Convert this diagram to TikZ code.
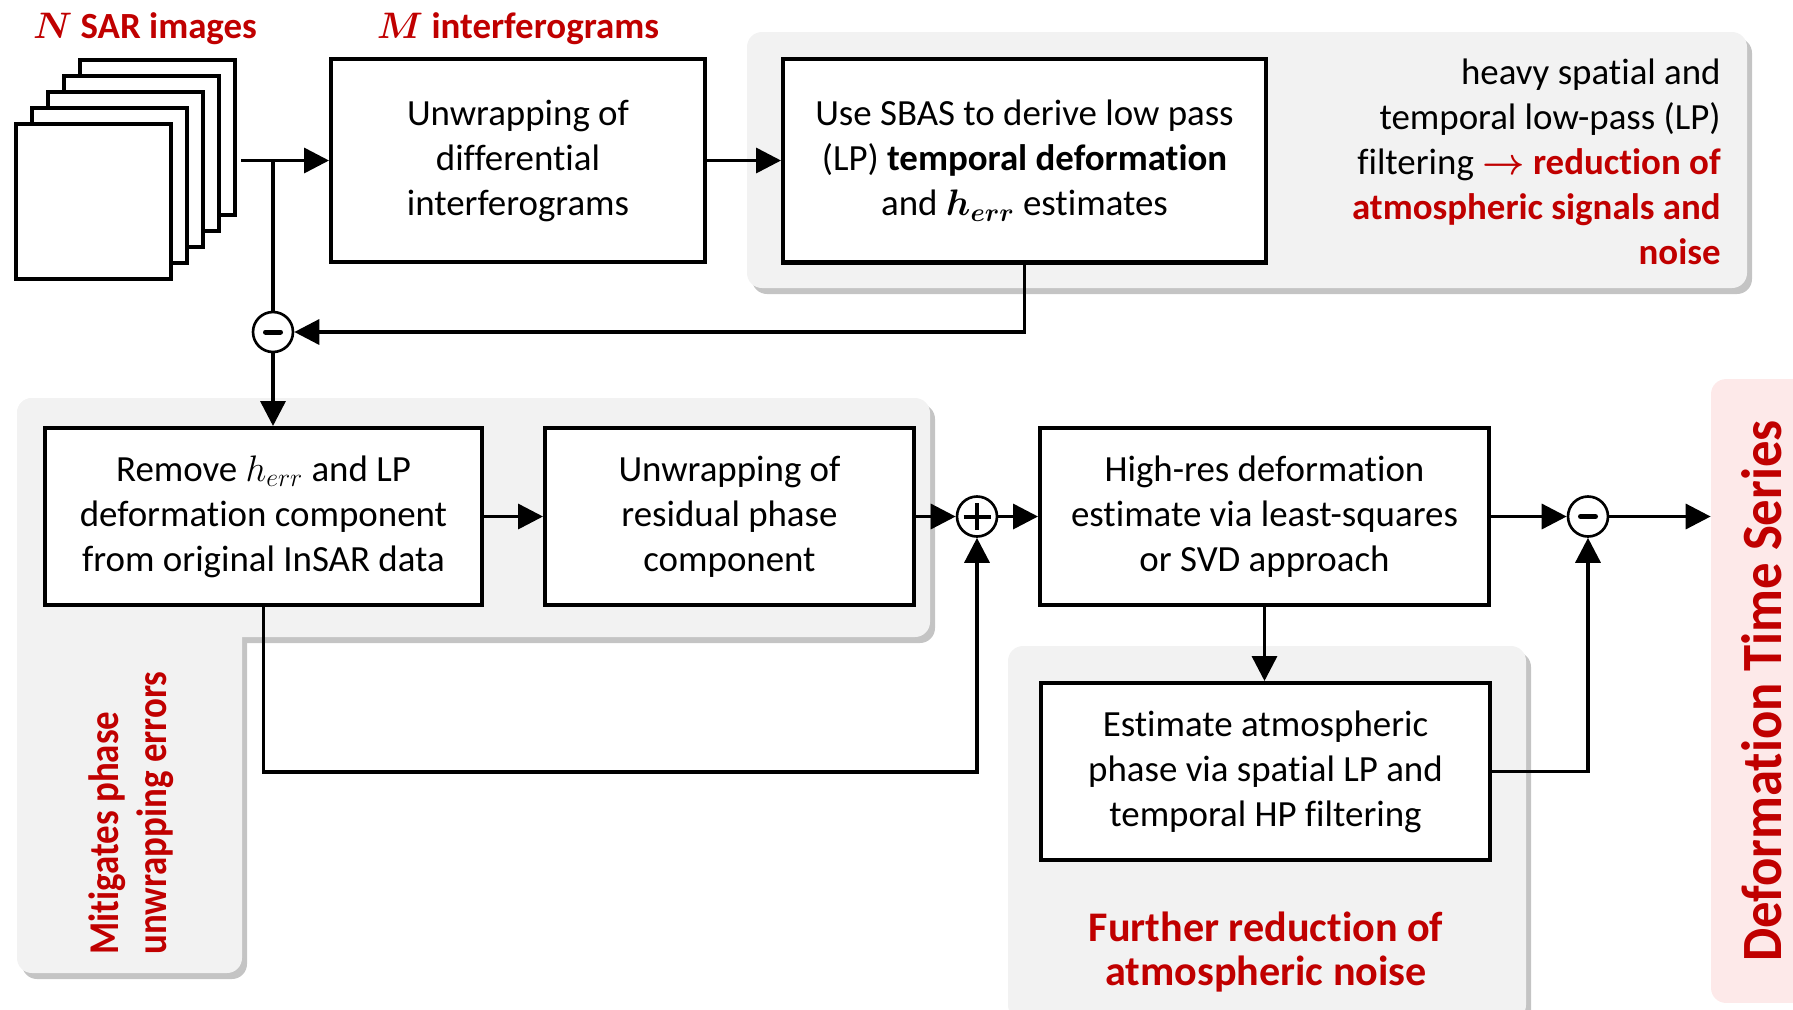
\RequirePackage{fix-cm}
\documentclass[tikz,border=0pt]{standalone}
\usepackage{fontspec}
\setmainfont{Carlito}[Ligatures=NoCommon]
\usetikzlibrary{arrows.meta}
\definecolor{darkred}{HTML}{C00000}
\definecolor{panelgray}{HTML}{F2F2F2}
\definecolor{panelpink}{HTML}{FDE9E9}
\definecolor{shadowgray}{HTML}{C4C4C4}
\begin{document}
\begin{tikzpicture}[x=0.02cm,y=-0.02cm,
    every node/.style={font=\fontsize{21}{25.6}\selectfont},
    procbox/.style={draw,rectangle,fill=white,line width=2.3pt,align=center,inner sep=0pt},
    sheet/.style={draw,rectangle,fill=white,line width=2.1pt,minimum width=3.1cm,minimum height=3.1cm},
    opcircle/.style={draw,circle,fill=white,line width=1.5pt,minimum size=0.8cm,inner sep=0pt},
    minussign/.style={path picture={\draw[line width=0.1cm,line cap=round] ([xshift=-0.15cm]path picture bounding box.center) -- ([xshift=0.15cm]path picture bounding box.center);}},
    plussign/.style={path picture={\draw[line width=0.08cm] ([xshift=-0.27cm]path picture bounding box.center) -- ([xshift=0.27cm]path picture bounding box.center) ([yshift=-0.27cm]path picture bounding box.center) -- ([yshift=0.27cm]path picture bounding box.center);}},
    arr/.style={-{Triangle[length=0.5cm,width=0.5cm]},line width=2pt},
    wire/.style={line width=2pt},
    panel/.style={fill=panelgray,rounded corners=0.3cm},
    panelshadow/.style={fill=shadowgray,rounded corners=0.3cm},
    note/.style={text=darkred,font=\fontsize{21}{25.6}\selectfont\bfseries}]
        \useasboundingbox (0,0) rectangle (1793,1009);
        \fill[panelshadow] (752,38) rectangle (1752,294);
        \fill[panel] (747,32) rectangle (1747,288);
        \fill[panelshadow] (22,404) rectangle (935,643);
        \fill[panelshadow] (22,404) rectangle (247,979);
        \fill[panel] (17,398) rectangle (930,637);
        \fill[panel] (17,398) rectangle (242,973);
        \fill[panelshadow] (1013,652) rectangle (1531,1025);
        \fill[panel] (1008,646) rectangle (1526,1020);
        \foreach \k in {4,3,2,1,0}
            \node[sheet] (sar\k) at (93.5+16*\k,201.5-16*\k) {};
        \node[note] (nlab) at (145,29) {{\boldmath$N$} SAR images};
        \node[note] (mlab) at (518,29) {{\boldmath$M$} interferograms};
        \node[procbox,minimum width=7.48cm,minimum height=4.06cm] (unw) at (518,160.5) {Unwrapping of\\differential\\interferograms};
        \node[procbox,minimum width=9.66cm,minimum height=4.08cm] (sbas) at (1024.5,160.5) {Use SBAS to derive low pass\\(LP) \textbf{temporal deformation}\\and {\boldmath$h_{err}$} estimates};
        \node[anchor=east,align=right,inner sep=0pt] (lpnote) at (1721,162) {heavy spatial and\\temporal low-pass (LP)\\filtering \textcolor{darkred}{\textbf{{\boldmath$\rightarrow$} reduction of}}\\\textcolor{darkred}{\textbf{atmospheric signals and}}\\\textcolor{darkred}{\textbf{noise}}};
        \node[opcircle,minussign] (sub1) at (273,332) {};
        \node[procbox,minimum width=8.74cm,minimum height=3.54cm] (rem) at (263.5,516.5) {Remove $h_{err}$ and LP\\deformation component\\from original InSAR data};
        \node[procbox,minimum width=7.38cm,minimum height=3.54cm] (res) at (729.5,516.5) {Unwrapping of\\residual phase\\component};
        \node[opcircle,plussign] (add) at (977,516.5) {};
        \node[procbox,minimum width=8.98cm,minimum height=3.54cm] (hres) at (1264.5,516.5) {High-res deformation\\estimate via least-squares\\or SVD approach};
        \node[opcircle,minussign] (sub2) at (1588,516.5) {};
        \node[procbox,minimum width=8.98cm,minimum height=3.54cm] (atm) at (1265.5,771.5) {Estimate atmospheric\\phase via spatial LP and\\temporal HP filtering};
        \node[note,align=center,font=\fontsize{24}{25.6}\selectfont\bfseries] (atmnote) at (1266,952) {Further reduction of\\atmospheric noise};
        \node[note,rotate=90,anchor=west,align=left,inner sep=0pt,font=\fontsize{21}{27.5}\selectfont\bfseries] (mitig) at (131,955) {\scalebox{1}[1.15]{Mitigates phase}\\\scalebox{1}[1.15]{unwrapping errors}};
        \node[rotate=90,fill=panelpink,rounded corners=0.3cm,minimum width=12.48cm,minimum height=2.04cm,text=darkred,font=\fontsize{30}{36}\selectfont\bfseries] (dts) at (1762,691) {\scalebox{1}[1.08]{Deformation Time Series}};
        \coordinate (sarout) at (241,160.5);
        \coordinate (loop) at (977,772);
        \draw[arr] (sarout) -- (unw.west);
        \draw[arr] (unw.east) -- (sbas.west);
        \draw[wire] (sub1.north) -- (sub1 |- sarout);
        \draw[arr] (sbas.south) |- (sub1.east);
        \draw[arr] (sub1.south) -- (sub1 |- rem.north);
        \draw[arr] (rem.east) -- (res.west);
        \draw[arr] (res.east) -- (add.west);
        \draw[arr] (add.east) -- (hres.west);
        \draw[arr] (hres.east) -- (sub2.west);
        \draw[arr] (sub2.east) -- (sub2 -| dts.north);
        \draw[arr] (hres.south) -- (hres.south |- atm.north);
        \draw[arr] (rem.south) |- (loop) -- (add.south);
        \draw[arr] (atm.east) -| (sub2.south);
    \end{tikzpicture}
\end{document}
